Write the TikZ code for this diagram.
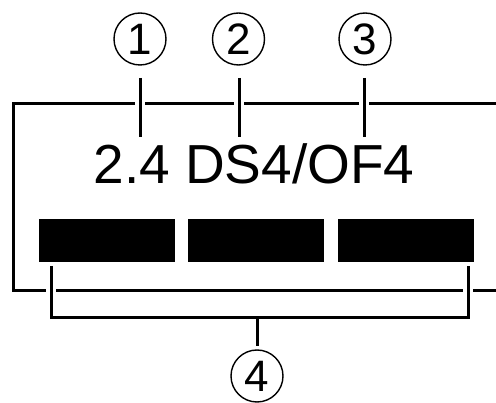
\documentclass[tikz,border=0pt]{standalone}
\usepackage{fontspec}
\setmainfont{Liberation Sans}
\begin{document}
\begin{tikzpicture}[x=1pt,y=1pt,
  ln/.style={line width=3pt,black},
  halo/.style={preaction={draw,white,line width=10pt}},
  num/.style={circle,draw,line width=1.4pt,minimum size=52pt,inner sep=0pt,
    font=\fontsize{44}{44}\selectfont},
  bar/.style={fill=black,draw=none,minimum width=136pt,minimum height=43pt,inner sep=0pt}]
\useasboundingbox (0,0) rectangle (496,-403);
% box
\draw[ln,line join=miter] (496,-104) -- (13,-104) -- (13,-291) -- (496,-291);
% label text
\node[inner sep=0pt,anchor=base,font=\fontsize{55}{55}\selectfont] (txt) at (254,-184) {2.4 DS4/OF4};
% circled numbers
\node[num] (c1) at (140,-39) {1};
\node[num] (c2) at (238.5,-39) {2};
\node[num] (c3) at (365,-39) {3};
\node[num] (c4) at (257,-376) {4};
% bars
\node[bar] (r1) at (107,-240.5) {};
\node[bar] (r2) at (256,-240.5) {};
\node[bar] (r3) at (405.5,-240.5) {};
% leaders
\coordinate (a1) at (140,-78);  \coordinate (b1) at (140,-137);
\coordinate (a2) at (239,-78);  \coordinate (b2) at (239,-137);
\coordinate (a3) at (364,-78);  \coordinate (b3) at (364,-137);
\draw[ln,halo] (a1) -- (b1);
\draw[ln,halo] (a2) -- (b2);
\draw[ln,halo] (a3) -- (b3);
% bracket
\coordinate (t1) at (51,-266);  \coordinate (t2) at (468,-266);
\coordinate (m) at (257,-318);  \coordinate (m2) at (257,-346);
\draw[ln,halo,line join=miter] (t1) -- (t1 |- m) -- (t2 |- m) -- (t2);
\draw[ln] (m) -- (m2);
\end{tikzpicture}
\end{document}
